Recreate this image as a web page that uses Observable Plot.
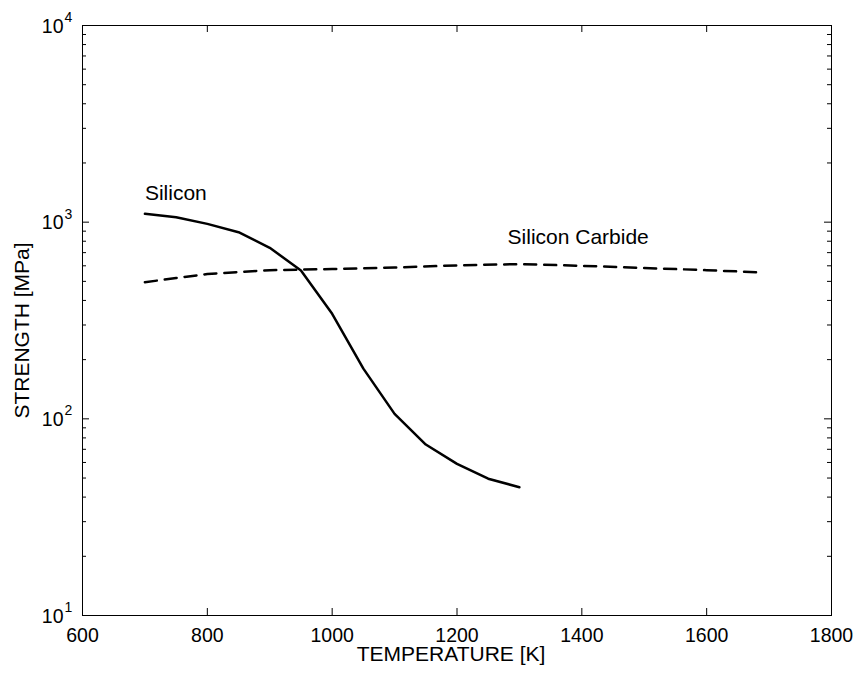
<!DOCTYPE html>
<html>
<head>
<meta charset="utf-8">
<script src="https://cdn.jsdelivr.net/npm/d3@7"></script>
<script src="https://cdn.jsdelivr.net/npm/@observablehq/plot@0.6"></script>
<style>
  html, body { margin: 0; padding: 0; background: #fff; }
  #chart { width: 857px; height: 679px; }
</style>
</head>
<body>
<div id="chart"></div>
<script>
// ---- data ----
const siliconT = [700, 750, 800, 850, 900, 950, 1000, 1050, 1100, 1150, 1200, 1250, 1300];
const siliconS = [1103, 1060, 980, 889, 741, 568, 342, 180, 106, 74, 59, 49.6, 44.9];
const sicT = [700, 750, 800, 900, 1000, 1100, 1200, 1300, 1400, 1500, 1600, 1690];
const sicS = [495, 520, 545, 570, 578, 588, 603, 612, 600, 585, 570, 555];
const labelText = ["Silicon", "Silicon Carbide"];
const labelX = [700, 1281];
const labelY = [1403, 838];
const xTicks = [600, 800, 1000, 1200, 1400, 1600, 1800];
const yMajor = [10, 100, 1000, 10000];
const yExp = ["1", "2", "3", "4"];

// ---- derived ----
const silicon = siliconT.map((t, i) => ({t, s: siliconS[i]}));
const sic = sicT.map((t, i) => ({t, s: sicS[i]}));
const labels = labelText.map((text, i) => ({text, x: labelX[i], y: labelY[i]}));
const yMinor = [];
for (let i = 0; i < yMajor.length - 1; i++) for (let k = 2; k <= 9; k++) yMinor.push(yMajor[i] * k);

const W = 857, H = 679, mL = 82, mR = 26, mT = 25, mB = 64;
const fw = W - mL - mR, fh = H - mT - mB;
const font = "'Liberation Sans', Arial, sans-serif";

const chart = Plot.plot({
  width: W, height: H,
  marginLeft: mL, marginRight: mR, marginTop: mT, marginBottom: mB,
  style: {fontFamily: font, fontSize: "19.5px", color: "black", background: "white"},
  x: {domain: [600, 1800], ticks: xTicks, tickSize: 0, tickPadding: 13, label: null, tickFormat: d => String(d)},
  y: {type: "log", domain: [10, 10000], axis: null},
  marks: [
    // inward ticks
    Plot.tickX(xTicks.slice(1, -1), {x: d => d, insetTop: fh - 7, stroke: "black", strokeWidth: 1}),
    Plot.tickX(xTicks.slice(1, -1), {x: d => d, insetBottom: fh - 7, stroke: "black", strokeWidth: 1}),
    Plot.tickY(yMajor.slice(1, -1), {y: d => d, insetRight: fw - 7, stroke: "black", strokeWidth: 1}),
    Plot.tickY(yMajor.slice(1, -1), {y: d => d, insetLeft: fw - 7, stroke: "black", strokeWidth: 1}),
    Plot.tickY(yMinor, {y: d => d, insetRight: fw - 4, stroke: "black", strokeWidth: 1}),
    Plot.tickY(yMinor, {y: d => d, insetLeft: fw - 4, stroke: "black", strokeWidth: 1}),
    Plot.frame({stroke: "black", strokeWidth: 1}),
    // y tick labels 10^n
    Plot.text(yMajor, {y: d => d, frameAnchor: "left", text: () => "10", textAnchor: "end", lineAnchor: "middle", dx: -19, dy: 1, fontSize: 19.5}),
    Plot.text(yMajor, {y: d => d, frameAnchor: "left", text: (d, i) => yExp[i], textAnchor: "start", lineAnchor: "middle", dx: -18, dy: -8, fontSize: 14}),
    // series
    Plot.line(silicon, {x: "t", y: "s", stroke: "black", strokeWidth: 2.5}),
    Plot.line(sic, {x: "t", y: "s", stroke: "black", strokeWidth: 2.5, strokeDasharray: "12,8"}),
    Plot.text(labels, {x: "x", y: "y", text: "text", textAnchor: "start", lineAnchor: "middle", fontSize: 21}),
    // axis titles
    Plot.text(["TEMPERATURE [K]"], {frameAnchor: "bottom", text: d => d, textAnchor: "middle", lineAnchor: "middle", dy: 38.5, dx: -6, fontSize: 21}),
    Plot.text(["STRENGTH [MPa]"], {frameAnchor: "left", text: d => d, textAnchor: "middle", lineAnchor: "middle", rotate: -90, dx: -60, dy: 10, fontSize: 21})
  ]
});
document.getElementById("chart").appendChild(chart);
</script>
</body>
</html>
